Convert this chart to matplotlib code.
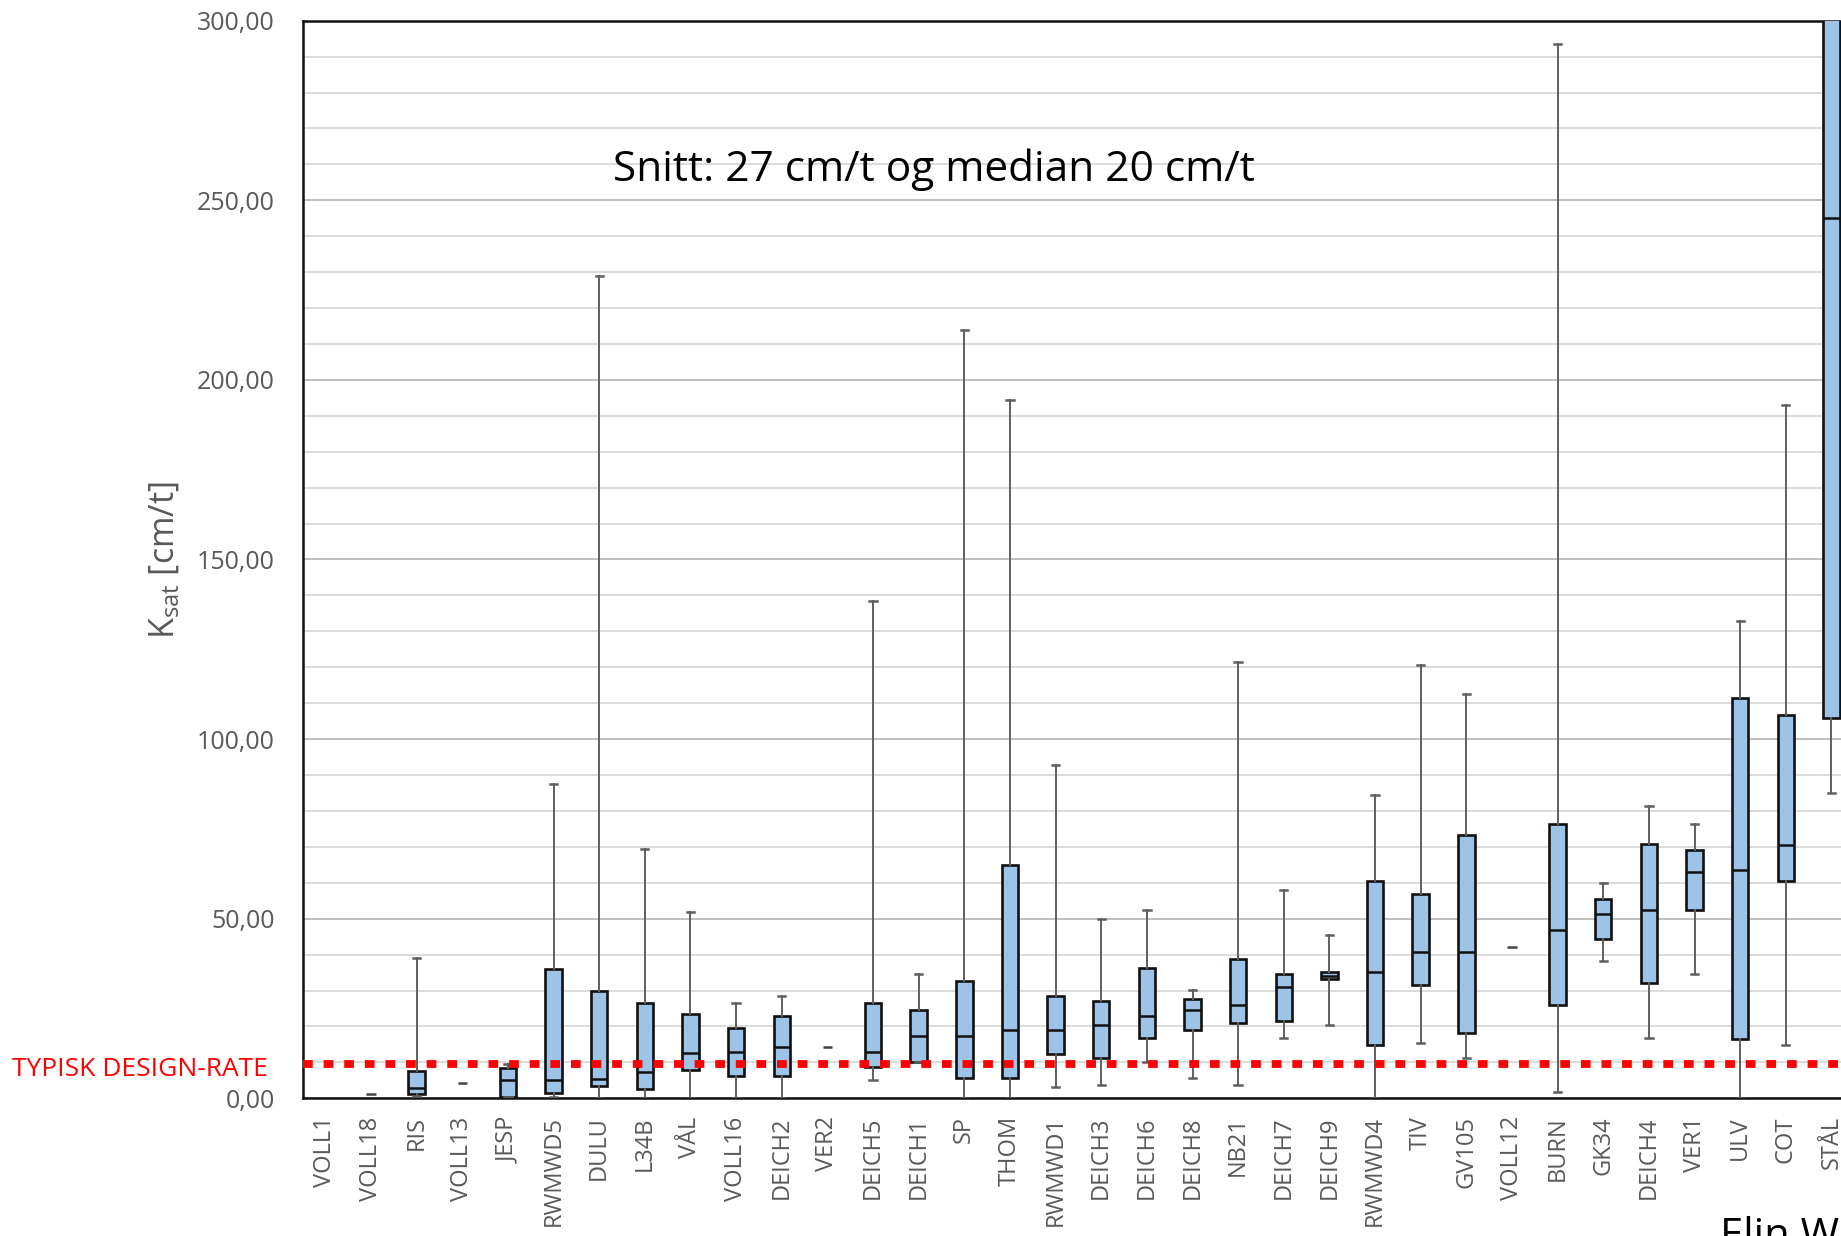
import matplotlib
matplotlib.use("Agg")
import matplotlib.pyplot as plt
from matplotlib.ticker import MultipleLocator, FuncFormatter

plt.rcParams['font.family'] = ['Open Sans', 'DejaVu Sans']

# sites, in the order they appear on the x axis
sites = ['VOLL1', 'VOLL18', 'RIS', 'VOLL13', 'JESP', 'RWMWD5', 'DULU', 'L34B',
         'VÅL', 'VOLL16', 'DEICH2', 'VER2', 'DEICH5', 'DEICH1', 'SP', 'THOM',
         'RWMWD1', 'DEICH3', 'DEICH6', 'DEICH8', 'NB21', 'DEICH7', 'DEICH9',
         'RWMWD4', 'TIV', 'GV105', 'VOLL12', 'BURN', 'GK34', 'DEICH4', 'VER1',
         'ULV', 'COT', 'STÅL']

# box statistics (cm/t); None = no box
whis_lo = [None, None, 0.6, None, 0.3, 0.3, 0.0, 0.0, 0.0, 0.0, 0.0, None,
           5.0, 10.2, 0.0, 0.0, 3.1, 3.7, 10.0, 5.6, 3.7, 16.7, 20.4, 0.0,
           15.5, 11.2, None, 1.8, 38.3, 16.7, 34.5, 0.0, 14.9, 85.0]
q1 = [None, None, 1.2, None, 0.4, 1.5, 3.5, 2.5, 8.0, 6.2, 6.2, None,
      8.8, 10.2, 5.6, 5.6, 12.4, 11.1, 16.7, 19.0, 21.1, 21.4, 33.2, 14.9,
      31.6, 18.1, None, 26.0, 44.4, 32.1, 52.5, 16.5, 60.4, 105.8]
median = [None, None, 3.0, None, 5.1, 5.0, 5.5, 7.4, 12.5, 13.0, 14.2, None,
          13.0, 17.4, 17.4, 19.0, 19.0, 20.4, 22.9, 24.6, 26.0, 31.0, 34.1, 35.1,
          40.7, 40.7, None, 46.9, 51.3, 52.5, 63.0, 63.5, 70.5, 245.0]
q3 = [None, None, 7.5, None, 8.5, 36.0, 30.0, 26.5, 23.5, 19.7, 22.8, None,
      26.5, 24.6, 32.7, 65.0, 28.5, 27.1, 36.4, 27.7, 38.8, 34.5, 35.3, 60.4,
      56.9, 73.4, None, 76.5, 55.5, 70.9, 69.0, 111.5, 106.7, 340.0]
whis_hi = [None, None, 39.0, None, 9.6, 87.5, 229.0, 69.5, 52.0, 26.5, 28.5, None,
           138.5, 34.5, 214.0, 194.5, 92.7, 50.0, 52.5, 30.2, 121.5, 58.0, 45.5,
           84.5, 120.5, 112.5, None, 293.5, 59.9, 81.5, 76.5, 133.0, 193.0, 340.0]
# sites with a single measurement (drawn as a short dash)
single = [None, 1.3, None, 4.2, None, None, None, None, None, None, None, 14.2,
          None, None, None, None, None, None, None, None, None, None, None, None,
          None, None, 42.0, None, None, None, None, None, None, None]

design_rate = 9.5

W, H = 1841, 1236
fig = plt.figure(figsize=(W / 100, H / 100), dpi=100)
ax = fig.add_axes([302.5 / W, 137.7 / H, 1551.8 / W, 1077.6 / H])

stats = []
pos = []
for i in range(len(sites)):
    if q1[i] is None:
        continue
    stats.append(dict(whislo=whis_lo[i], q1=q1[i], med=median[i], q3=q3[i],
                      whishi=whis_hi[i], fliers=[]))
    pos.append(i)

bp = ax.bxp(stats, positions=pos, widths=0.36, capwidths=0.16, patch_artist=True,
            showfliers=False,
            boxprops=dict(facecolor='#9dc3e6', edgecolor='#111111', linewidth=1.9),
            medianprops=dict(color='#111111', linewidth=1.8),
            whiskerprops=dict(color='#5f5f5f', linewidth=1.4),
            capprops=dict(color='#5f5f5f', linewidth=1.8),
            zorder=3)

for i, v in enumerate(single):
    if v is not None:
        ax.hlines(v, i - 0.1, i + 0.1, color='#444444', linewidth=1.8, zorder=3)

ax.axhline(design_rate, color='#ff0000', linewidth=5.6, linestyle=(0, (1.25, 1.4)),
           dash_capstyle='butt', zorder=6)

ax.set_xlim(-0.5, len(sites) - 0.5)
ax.set_ylim(0, 300)
ax.yaxis.set_major_locator(MultipleLocator(50))
ax.yaxis.set_minor_locator(MultipleLocator(10))
ax.yaxis.set_major_formatter(FuncFormatter(lambda v, p: f'{v:.2f}'.replace('.', ',')))
ax.grid(which='major', axis='y', color='#bfbfbf', linewidth=1.4, zorder=0)
ax.grid(which='minor', axis='y', color='#dcdcdc', linewidth=1.4, zorder=0)
ax.set_axisbelow(True)

ax.set_xticks(range(len(sites)))
ax.set_xticklabels(sites, rotation=90, va='top', ha='center')
ax.tick_params(axis='x', length=0, pad=13, labelsize=17, labelcolor='#595959')
ax.tick_params(axis='y', which='both', length=0, pad=20, labelsize=18, labelcolor='#595959')

for s in ['left', 'bottom', 'top']:
    ax.spines[s].set_color('#111111')
    ax.spines[s].set_linewidth(1.8)
ax.spines['right'].set_visible(False)

fig.text(165 / W, 1 - 560 / H, r'$\mathregular{K_{sat}}$ [cm/t]', rotation=90,
         ha='center', va='center', fontsize=24.5, color='#595959')
fig.text(613 / W, 1 - 181 / H, 'Snitt: 27 cm/t og median 20 cm/t', ha='left',
         va='baseline', fontsize=30.5, color='black')
fig.text(12 / W, 1 - 1076 / H, 'TYPISK DESIGN-RATE', ha='left', va='baseline',
         fontsize=19, color='#ff0000')
fig.text(1720 / W, 1 - 1248 / H, 'Elin W', ha='left', va='baseline',
         fontsize=30, color='black')

fig.savefig('out.png', dpi=100)
